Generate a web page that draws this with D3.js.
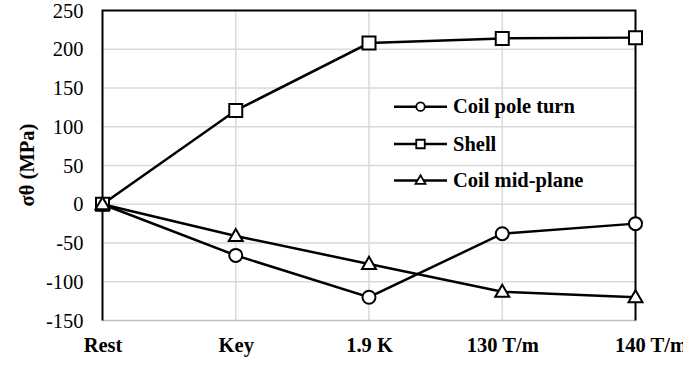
<!DOCTYPE html>
<html><head><meta charset="utf-8">
<script src="https://cdn.jsdelivr.net/npm/d3@7"></script>
<style>body{margin:0;background:#fff}svg{display:block}</style>
</head><body><svg id="c" width="683" height="367"></svg>
<script>
const categories = ["Rest","Key","1.9 K","130 T/m","140 T/m"];
const coilPoleTurn = [0,-66,-120,-38,-25];
const shell = [0,121,208,214,215];
const coilMidPlane = [0,-41,-77,-113,-120];
const yTicks = [-150,-100,-50,0,50,100,150,200,250];
const seriesNames = ["Coil pole turn","Shell","Coil mid-plane"];
const seriesSymbols = ["circle","square","triangle"];

const FONT = '"Liberation Serif", Tinos, "Times New Roman", serif';
const svg = d3.select("#c").style("font-family", FONT);
const x = d3.scalePoint().domain(categories).range([102.5,635.5]);
const y = d3.scaleLinear().domain([-150,250]).range([320.5,10.5]);

svg.append("g").selectAll("line").data(yTicks.filter(d=>d>-150&&d<250)).join("line")
  .attr("x1",x.range()[0]).attr("x2",x.range()[1]).attr("y1",d=>y(d)).attr("y2",d=>y(d))
  .attr("stroke","#d9d9d9").attr("stroke-width",1.5);
svg.append("g").selectAll("line").data(categories.slice(1,-1)).join("line")
  .attr("x1",d=>x(d)).attr("x2",d=>x(d)).attr("y1",y(250)).attr("y2",y(-150))
  .attr("stroke","#d9d9d9").attr("stroke-width",1.5);
svg.append("line").attr("x1",x.range()[0]).attr("x2",x.range()[1]).attr("y1",y(-150)).attr("y2",y(-150))
  .attr("stroke","#bfbfbf").attr("stroke-width",1.5);
svg.append("path").attr("d",`M${x.range()[0]},${y(-150)}V${y(250)}H${x.range()[1]}V${y(-150)}`)
  .attr("fill","none").attr("stroke","#000").attr("stroke-width",2);

const ya = svg.append("g").attr("transform",`translate(${x.range()[0]},0)`)
  .call(d3.axisLeft(y).tickValues(yTicks).tickFormat(d=>String(d)).tickSize(0).tickPadding(19));
ya.attr("font-family", null).attr("font-size", null);
ya.select(".domain").remove();
ya.selectAll("text").attr("fill","#000").style("font-family",FONT).style("font-size","20.5px");

const xa = svg.append("g").attr("transform",`translate(0,${y(-150)})`)
  .call(d3.axisBottom(x).tickSize(0).tickPadding(17));
xa.attr("font-family", null).attr("font-size", null);
xa.select(".domain").remove();
xa.selectAll("text").attr("fill","#000").style("font-family",FONT).style("font-size","20.5px").style("font-weight","bold")
  .attr("dx",(d,i)=> i===categories.length-1 ? 15 : 0);

svg.append("text").attr("transform",`translate(34,165) rotate(-90)`).attr("text-anchor","middle")
  .style("font-family",FONT).style("font-size","20.5px").style("font-weight","bold").text("σθ (MPa)");

const symGen = {
  circle: s=>d3.symbol(d3.symbolCircle, s*s*Math.PI/4)(),
  square: s=>d3.symbol(d3.symbolSquare, s*s)(),
  triangle: s=>d3.symbol(d3.symbolTriangle, s*s*0.433)()
};
const allSeries = [coilPoleTurn, shell, coilMidPlane];
const line = d3.line().x((d,i)=>x(categories[i])).y(d=>y(d));
allSeries.forEach(vals=>{
  svg.append("path").datum(vals).attr("d",line).attr("fill","none").attr("stroke","#000").attr("stroke-width",2.5);
});
allSeries.forEach((vals,k)=>{
  svg.append("g").selectAll("path").data(vals).join("path")
    .attr("transform",(d,i)=>`translate(${x(categories[i])},${y(d)+(seriesSymbols[k]==="triangle"?1:0)})`)
    .attr("d",symGen[seriesSymbols[k]](seriesSymbols[k]==="triangle"?14:13))
    .attr("fill","#fff").attr("stroke","#000").attr("stroke-width",2);
});

const lg = svg.append("g");
const legY = [106.7,144,180.5];
seriesNames.forEach((n,k)=>{
  const g = lg.append("g").attr("transform",`translate(0,${legY[k]})`);
  g.append("line").attr("x1",394).attr("x2",447).attr("y1",0).attr("y2",0).attr("stroke","#000").attr("stroke-width",2.5);
  g.append("path").attr("transform",`translate(420.5,${seriesSymbols[k]==="triangle"?0.5:0})`)
    .attr("d",symGen[seriesSymbols[k]](seriesSymbols[k]==="triangle"?10:8.5))
    .attr("fill","#fff").attr("stroke","#000").attr("stroke-width",1.8);
  g.append("text").attr("x",453).attr("dy","0.33em").style("font-family",FONT).style("font-size","20.5px").style("font-weight","bold").text(n);
});
</script></body></html>
